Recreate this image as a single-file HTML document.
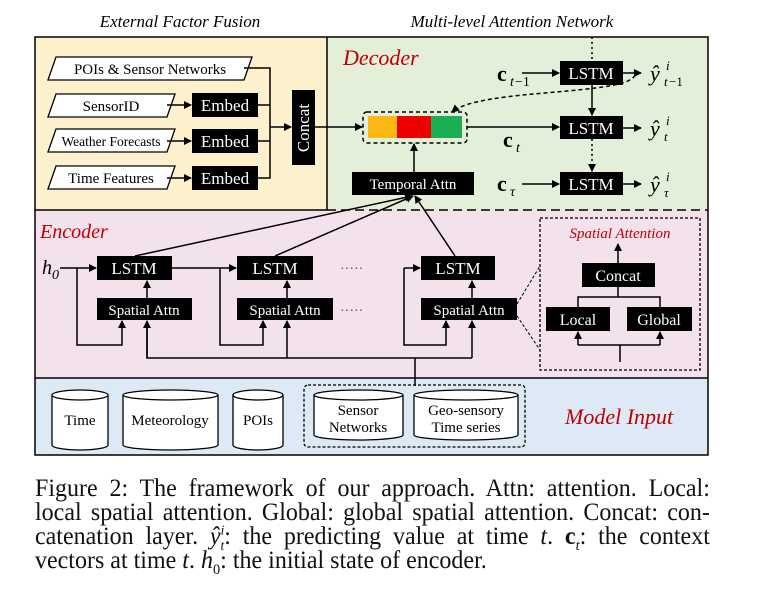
<!DOCTYPE html>
<html><head><meta charset="utf-8"><style>
body{margin:0;background:#fff;width:760px;height:598px;overflow:hidden}
svg{position:absolute;left:0;top:0}
text{font-family:"Liberation Serif",serif}
.cap{position:absolute;left:35px;top:477px;width:703px;transform:scaleX(0.96);transform-origin:0 0;font:25px/24px "Liberation Serif",serif;color:#111}
.cap div{text-align:justify;text-align-last:justify;white-space:nowrap;height:24px}
.cap div.l{text-align-last:left}
sup,sub{line-height:0}
</style></head><body>
<svg width="760" height="598" viewBox="0 0 760 598">
<defs>
<marker id="a" markerWidth="8" markerHeight="8" refX="7" refY="4" orient="auto" markerUnits="userSpaceOnUse"><path d="M0,0 L8,4 L0,8 Z" fill="#000"/></marker>
</defs>
<text x="180" y="27" font-size="17" font-style="italic" text-anchor="middle">External Factor Fusion</text>
<text x="512" y="27" font-size="17" font-style="italic" text-anchor="middle">Multi-level Attention Network</text>
<rect x="35" y="37" width="292" height="173" fill="#fdf0cc"/>
<rect x="327" y="37" width="381" height="173" fill="#e3efd9"/>
<rect x="35" y="210" width="673" height="168" fill="#f3e1ec"/>
<rect x="35" y="378" width="673" height="77" fill="#dde9f4"/>
<g stroke="#000" stroke-width="1.5" fill="none">
<rect x="35" y="37" width="673" height="418"/>
<line x1="327" y1="37" x2="327" y2="210"/>
<line x1="35" y1="210" x2="327" y2="210"/>
<line x1="327" y1="210" x2="708" y2="210" stroke-dasharray="9,5"/>
<line x1="35" y1="378" x2="708" y2="378"/>
</g>
<g stroke="#000" stroke-width="1.3" fill="#fff">
<polygon points="56,57 252,57 244,80 48,80"/>
<polygon points="56,94 175,94 167,117 48,117"/>
<polygon points="56,129 175,129 167,152 48,152"/>
<polygon points="56,166 175,166 167,189 48,189"/>
</g>
<g font-size="15" text-anchor="middle">
<text x="150" y="74">POIs &amp; Sensor Networks</text>
<text x="111" y="111">SensorID</text>
<text x="111" y="146" font-size="13.5">Weather Forecasts</text>
<text x="111" y="183">Time Features</text>
</g>
<g fill="#000">
<rect x="192" y="93" width="66" height="24"/><rect x="192" y="129" width="66" height="24"/><rect x="192" y="166" width="66" height="24"/>
<rect x="292" y="90" width="23" height="75"/>
<rect x="352" y="172" width="122" height="23"/>
<rect x="560" y="61" width="63" height="24"/><rect x="560" y="116" width="63" height="23"/><rect x="560" y="172" width="63" height="23"/>
<rect x="97" y="256" width="75" height="24"/><rect x="237" y="256" width="76" height="24"/><rect x="421" y="256" width="74" height="24"/>
<rect x="97" y="298" width="95" height="22"/><rect x="237" y="298" width="96" height="22"/><rect x="421" y="298" width="96" height="22"/>
<rect x="582" y="263" width="73" height="24"/><rect x="546" y="307" width="64" height="24"/><rect x="627" y="307" width="65" height="24"/>
</g>
<g fill="#fff" font-size="17" text-anchor="middle">
<text x="225" y="111">Embed</text><text x="225" y="147">Embed</text><text x="225" y="184">Embed</text>
<text x="0" y="0" transform="translate(309,128) rotate(-90)" text-anchor="middle">Concat</text>
<text x="413" y="189" font-size="15">Temporal Attn</text>
<text x="591" y="79">LSTM</text><text x="591" y="134">LSTM</text><text x="591" y="190">LSTM</text>
<text x="134" y="274">LSTM</text><text x="275" y="274">LSTM</text><text x="458" y="274">LSTM</text>
<text x="144" y="315" font-size="15">Spatial Attn</text><text x="285" y="315" font-size="15">Spatial Attn</text><text x="469" y="315" font-size="15">Spatial Attn</text>
<text x="618" y="281" font-size="16">Concat</text><text x="578" y="325" font-size="16">Local</text><text x="659" y="325" font-size="16">Global</text>
</g>
<g stroke="#000" stroke-width="1.5" fill="none">
<polyline points="244,68 270,68 270,178 258,178"/>
<line x1="258" y1="105" x2="270" y2="105"/><line x1="258" y1="141" x2="270" y2="141"/>
<line x1="270" y1="127" x2="291" y2="127" marker-end="url(#a)"/>
<line x1="167" y1="105" x2="191" y2="105" marker-end="url(#a)"/>
<line x1="167" y1="141" x2="191" y2="141" marker-end="url(#a)"/>
<line x1="167" y1="178" x2="191" y2="178" marker-end="url(#a)"/>
<line x1="315" y1="127" x2="362" y2="127" marker-end="url(#a)"/>
<line x1="414" y1="172" x2="414" y2="144" marker-end="url(#a)"/>
<line x1="467" y1="127" x2="559" y2="127" marker-end="url(#a)"/>
<line x1="522" y1="73" x2="559" y2="73" marker-end="url(#a)"/>
<line x1="522" y1="184" x2="559" y2="184" marker-end="url(#a)"/>
<line x1="623" y1="73" x2="641" y2="73" marker-end="url(#a)"/>
<line x1="623" y1="128" x2="641" y2="128" marker-end="url(#a)"/>
<line x1="623" y1="184" x2="641" y2="184" marker-end="url(#a)"/>
<line x1="592" y1="37" x2="592" y2="61" stroke-dasharray="2,3"/>
<line x1="592" y1="85" x2="592" y2="115" marker-end="url(#a)"/>
<line x1="592" y1="139" x2="592" y2="171" stroke-dasharray="2,3" marker-end="url(#a)"/>
<path d="M635,75 C628,96 480,88 452,112" stroke-dasharray="4,3" marker-end="url(#a)"/>
<rect x="363" y="112" width="104" height="31" rx="4" stroke-dasharray="4,3"/>
<line x1="60" y1="268" x2="96" y2="268" marker-end="url(#a)"/>
<polyline points="77,268 77,345 122,345 122,321" marker-end="url(#a)"/>
<line x1="172" y1="268" x2="236" y2="268" marker-end="url(#a)"/>
<polyline points="220,268 220,345 263,345 263,321" marker-end="url(#a)"/>
<line x1="404" y1="268" x2="420" y2="268" marker-end="url(#a)"/>
<polyline points="404,268 404,345 446,345 446,321" marker-end="url(#a)"/>
<line x1="147" y1="298" x2="147" y2="281" marker-end="url(#a)"/>
<line x1="287" y1="298" x2="287" y2="281" marker-end="url(#a)"/>
<line x1="472" y1="298" x2="472" y2="281" marker-end="url(#a)"/>
<polyline points="147,321 147,358 472,358"/>
<line x1="147" y1="358" x2="147" y2="321" marker-end="url(#a)"/>
<line x1="287" y1="358" x2="287" y2="321" marker-end="url(#a)"/>
<line x1="472" y1="358" x2="472" y2="321" marker-end="url(#a)"/>
<line x1="415" y1="358" x2="415" y2="386"/>
<line x1="135" y1="256" x2="412" y2="196" marker-end="url(#a)"/>
<line x1="275" y1="256" x2="413" y2="196" marker-end="url(#a)"/>
<line x1="455" y1="256" x2="415" y2="196" marker-end="url(#a)"/>
<rect x="540" y="218" width="160" height="152" stroke-width="1.3" stroke-dasharray="3,2"/>
<line x1="517" y1="304" x2="540" y2="266" stroke-width="1" stroke-dasharray="3,2"/>
<line x1="517" y1="316" x2="540" y2="350" stroke-width="1" stroke-dasharray="3,2"/>
<line x1="618" y1="263" x2="618" y2="244" marker-end="url(#a)"/>
<polyline points="618,287 618,297"/><polyline points="578,307 578,297 660,297 660,307"/>
<line x1="620" y1="362" x2="620" y2="345"/><line x1="578" y1="345" x2="660" y2="345"/>
<line x1="578" y1="345" x2="578" y2="332" marker-end="url(#a)"/>
<line x1="660" y1="345" x2="660" y2="332" marker-end="url(#a)"/>
<rect x="304" y="385" width="221" height="62" rx="4" stroke-width="1.3" stroke-dasharray="3,2"/>
</g>
<rect x="368" y="116" width="29" height="22" fill="#fdb813"/>
<rect x="397" y="116" width="34" height="22" fill="#ee0000"/>
<rect x="431" y="116" width="31" height="22" fill="#1aae55"/>
<g font-size="14" fill="#555"><text x="340" y="273">·····</text><text x="340" y="315">·····</text></g>
<text x="343" y="65" font-size="22" font-style="italic" fill="#c00000">Decoder</text>
<g font-size="22"><text x="497" y="81" font-weight="bold">c</text><text x="510" y="86" font-size="14" font-style="italic">t</text><text x="515" y="86" font-size="14">−1</text>
<text x="503" y="147" font-weight="bold">c</text><text x="516" y="152" font-size="14" font-style="italic">t</text>
<text x="497" y="191" font-weight="bold">c</text><text x="510" y="196" font-size="14" font-style="italic">τ</text>
<g font-style="italic"><text x="650" y="81">ŷ</text><text x="666" y="70" font-size="13">i</text><text x="664" y="86" font-size="13">t</text><text x="669" y="86" font-size="13" font-style="normal">−1</text>
<text x="650" y="136">ŷ</text><text x="666" y="125" font-size="13">i</text><text x="664" y="141" font-size="13">t</text>
<text x="650" y="192">ŷ</text><text x="666" y="181" font-size="13">i</text><text x="664" y="197" font-size="13">τ</text></g></g>
<text x="40" y="238" font-size="20" font-style="italic" fill="#c00000">Encoder</text>
<text x="42" y="274" font-size="20" font-style="italic">h</text><text x="52" y="279" font-size="14" font-style="italic">0</text>
<text x="620" y="238" font-size="15" font-style="italic" fill="#c00000" text-anchor="middle">Spatial Attention</text>
<g stroke="#000" stroke-width="1.3" fill="#fff">
<path d="M52,395 L52,445 A28,5 0 0 0 108,445 L108,395"/><ellipse cx="80" cy="395" rx="28" ry="5"/>
<path d="M123,395 L123,445 A47.5,5 0 0 0 218,445 L218,395"/><ellipse cx="170.5" cy="395" rx="47.5" ry="5"/>
<path d="M233,395 L233,445 A25,5 0 0 0 283,445 L283,395"/><ellipse cx="258" cy="395" rx="25" ry="5"/>
<path d="M314,395 L314,435 A44.5,5 0 0 0 403,435 L403,395"/><ellipse cx="358.5" cy="395" rx="44.5" ry="5"/>
<path d="M414,395 L414,435 A52,5 0 0 0 518,435 L518,395"/><ellipse cx="466" cy="395" rx="52" ry="5"/>
</g>
<g font-size="15" text-anchor="middle">
<text x="80" y="425">Time</text><text x="170" y="425">Meteorology</text><text x="258" y="425">POIs</text>
<text x="358" y="415">Sensor</text><text x="358" y="432">Networks</text>
<text x="466" y="415">Geo-sensory</text><text x="466" y="432">Time series</text>
</g>
<text x="565" y="424" font-size="22" font-style="italic" fill="#c00000">Model Input</text>
</svg>
<div class="cap">
<div>Figure 2: The framework of our approach. Attn: attention. Local:</div>
<div>local spatial attention. Global: global spatial attention. Concat: con-</div>
<div>catenation layer. <i>ŷ<sup style="font-size:14px">i</sup><sub style="font-size:14px;margin-left:-4px">t</sub></i>: the predicting value at time <i>t</i>. <b>c</b><sub style="font-size:15px"><i>t</i></sub>: the context</div>
<div class="l">vectors at time <i>t</i>. <i>h</i><sub style="font-size:15px">0</sub>: the initial state of encoder.</div>
</div>
</body></html>
